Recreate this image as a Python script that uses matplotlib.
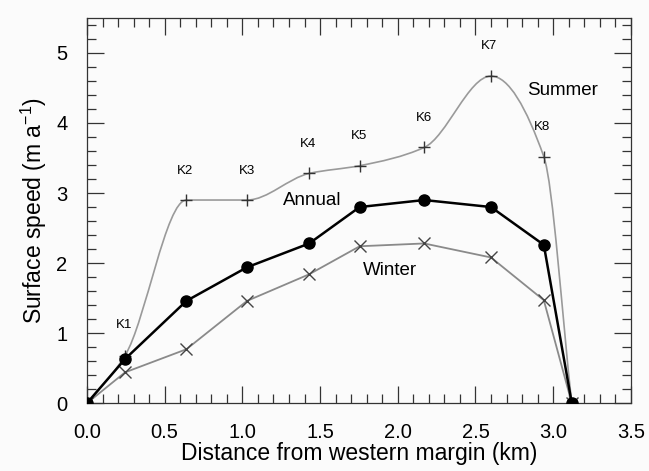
import numpy as np
import matplotlib
matplotlib.use("Agg")
import matplotlib.pyplot as plt
from matplotlib.path import Path
from matplotlib.patches import PathPatch
from matplotlib.ticker import MultipleLocator

plt.rcParams['font.family'] = ['Liberation Sans', 'DejaVu Sans']
plt.rcParams['mathtext.default'] = 'regular'

# distance of stakes from the western margin (km)
dist = [0.0, 0.245, 0.64, 1.03, 1.43, 1.755, 2.17, 2.60, 2.94, 3.12]
summer = [0.0, 0.68, 2.90, 2.90, 3.28, 3.39, 3.65, 4.67, 3.52, 0.0]
annual = [0.0, 0.63, 1.46, 1.94, 2.28, 2.80, 2.90, 2.80, 2.26, 0.0]
winter = [0.0, 0.44, 0.77, 1.46, 1.84, 2.24, 2.28, 2.08, 1.47, 0.0]
stakes = ['K1', 'K2', 'K3', 'K4', 'K5', 'K6', 'K7', 'K8']
stake_lab_x = [0.24, 0.63, 1.03, 1.425, 1.75, 2.17, 2.585, 2.93]
stake_lab_y = [1.11, 3.31, 3.31, 3.70, 3.81, 4.07, 5.10, 3.94]


def smooth_path(x, y):
    # monotone cubic (pchip style) drawn as bezier segments
    x = np.asarray(x, float)
    y = np.asarray(y, float)
    h = np.diff(x)
    d = np.diff(y) / h
    m = np.zeros_like(y)
    for i in range(1, len(x) - 1):
        if d[i - 1] * d[i] > 0:
            w1 = 2 * h[i] + h[i - 1]
            w2 = h[i] + 2 * h[i - 1]
            m[i] = (w1 + w2) / (w1 / d[i - 1] + w2 / d[i])
    m[0] = d[0]
    m[-1] = d[-1]
    verts = [(x[0], y[0])]
    codes = [Path.MOVETO]
    for i in range(len(x) - 1):
        verts += [(x[i] + h[i] / 3, y[i] + m[i] * h[i] / 3),
                  (x[i + 1] - h[i] / 3, y[i + 1] - m[i + 1] * h[i] / 3),
                  (x[i + 1], y[i + 1])]
        codes += [Path.CURVE4] * 3
    return Path(verts, codes)


fig = plt.figure(figsize=(6.49, 4.71), dpi=100)
fig.patch.set_facecolor('#fbfbfb')
ax = fig.add_axes([0.134, 0.144, 0.838, 0.818])
ax.set_facecolor('#fbfbfb')

ax.add_patch(PathPatch(smooth_path(dist, summer), fill=False,
                       edgecolor='#9a9a9a', lw=1.2, zorder=2))
ax.plot(dist[1:-1], summer[1:-1], ls='none', marker='+', ms=9,
        mew=1.0, color='#333333', zorder=3)

ax.plot(dist, winter, color='#8a8a8a', lw=1.3, marker='x', ms=8,
        mew=1.0, mec='#444444', zorder=3)
ax.plot(dist, annual, color='black', lw=1.8, marker='o', ms=8,
        zorder=4)

for lab, lx, ly in zip(stakes, stake_lab_x, stake_lab_y):
    ax.text(lx, ly, lab, fontsize=9.5, ha='center', va='center')

ax.text(3.06, 4.47, 'Summer', fontsize=13.5, ha='center', va='center')
ax.text(1.45, 2.89, 'Annual', fontsize=13.5, ha='center', va='center')
ax.text(1.95, 1.89, 'Winter', fontsize=13.5, ha='center', va='center')

ax.set_xlim(0, 3.5)
ax.set_ylim(0, 5.5)
ax.xaxis.set_major_locator(MultipleLocator(0.5))
ax.xaxis.set_minor_locator(MultipleLocator(0.1))
ax.yaxis.set_major_locator(MultipleLocator(1))
ax.yaxis.set_minor_locator(MultipleLocator(0.2))
ax.set_yticks([0, 1, 2, 3, 4, 5])
ax.set_xticks(np.arange(0, 3.51, 0.5))
ax.set_xticklabels(['%.1f' % v for v in np.arange(0, 3.51, 0.5)])

ax.tick_params(which='both', direction='in', top=True, right=True,
               labelsize=14.5, width=0.9, color='#333333')
ax.tick_params(which='major', length=12.5)
ax.tick_params(which='minor', length=6.5)
ax.tick_params(axis='x', pad=14)
ax.tick_params(axis='y', pad=14)
for s in ax.spines.values():
    s.set_linewidth(0.9)
    s.set_color('#333333')

ax.set_xlabel('Distance from western margin (km)', fontsize=16.5, labelpad=0)
ax.set_ylabel('Surface speed (m a$^{-1}$)', fontsize=16.5, labelpad=5)

fig.savefig('out.png', dpi=100, facecolor=fig.get_facecolor())
